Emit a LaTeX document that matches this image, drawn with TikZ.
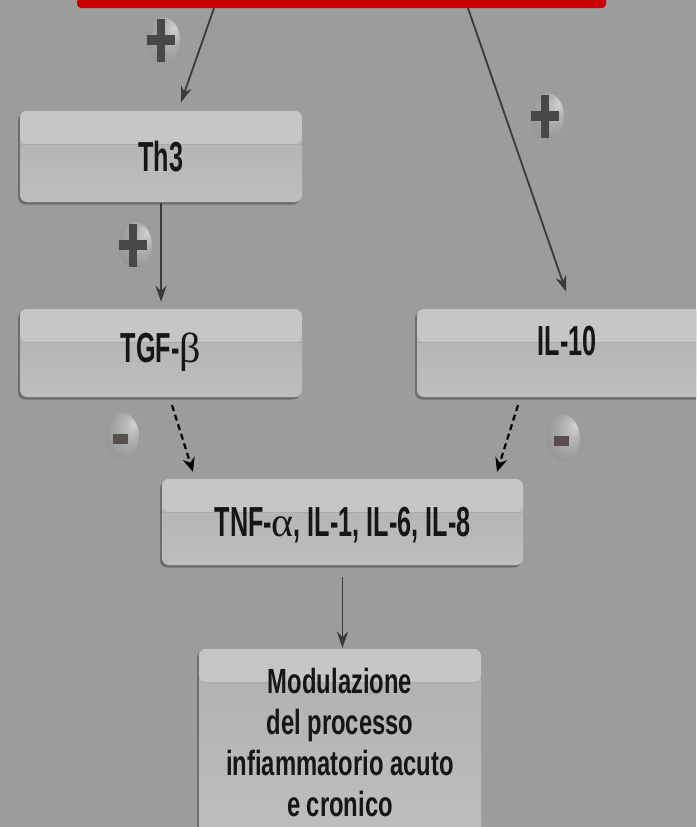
\documentclass[tikz,border=0pt]{standalone}
\usepackage{fontspec}
\usepackage{xcolor}
\usetikzlibrary{arrows.meta,shadows,shapes.geometric}
\newfontfamily\boxfont[FakeStretch=0.6]{Liberation Sans}
\newfontfamily\modfont[FakeStretch=0.68]{Liberation Sans}
\newfontfamily\greekfont{Liberation Serif}
\definecolor{bgcol}{RGB}{156,156,156}
\definecolor{bandcol}{RGB}{198,198,198}
\definecolor{bandline}{RGB}{170,170,170}
\definecolor{lowtop}{RGB}{176,176,176}
\definecolor{lowbot}{RGB}{190,190,190}
\definecolor{edgecol}{RGB}{110,110,110}
\definecolor{barred}{RGB}{200,0,0}
\definecolor{arrcol}{RGB}{58,58,58}
\definecolor{signcol}{RGB}{72,72,72}
\definecolor{minuscol}{RGB}{88,78,78}
\definecolor{txtcol}{RGB}{22,22,22}
\pgfdeclareradialshading{signglow}{\pgfpoint{18bp}{14bp}}{color(0bp)=(white!55!bgcol); color(12bp)=(white!25!bgcol); color(30bp)=(bgcol!97!black); color(50bp)=(bgcol)}

\begin{document}
\begin{tikzpicture}[x=1pt,y=-1pt,
  cbox/.style={rectangle, rounded corners=7pt, minimum width=282pt, inner sep=0pt,
    top color=lowtop, bottom color=lowbot, text=txtcol,
    font=\boxfont\bfseries\fontsize{42}{46}\selectfont,
    general shadow={shadow xshift=-2pt, shadow yshift=-2.5pt, fill=edgecol},
    path picture={
      \fill[bandcol] (path picture bounding box.north west) rectangle ([yshift=-33pt]path picture bounding box.north east);
      \draw[bandline, line width=1pt] ([yshift=-33pt]path picture bounding box.north west) -- ([yshift=-33pt]path picture bounding box.north east);}},
  sign/.style={ellipse, minimum width=34pt, minimum height=46pt, inner sep=0pt, shade, shading=signglow},
  plus/.style={sign, path picture={
      \fill[signcol] ([xshift=-16pt,yshift=-5pt]path picture bounding box.center) rectangle ++(28pt,10pt);
      \fill[signcol] ([xshift=-6pt,yshift=-21.5pt]path picture bounding box.center) rectangle ++(8pt,43pt);}},
  minus/.style={sign, path picture={
      \fill[minuscol] ([xshift=-9pt,yshift=-8pt]path picture bounding box.center) rectangle ++(15pt,10pt);}},
  act/.style={arrcol, line width=1.8pt, -{Stealth[length=16pt,width=11pt]}},
  inh/.style={black, line width=2.2pt, dash pattern=on 6pt off 4pt, -{Stealth[length=14pt,width=12pt]}}]
  \clip (0,0) rectangle (696,827);
  \fill[bgcol] (0,0) rectangle (696,827);

  \node[fill=barred, rounded corners=4pt, minimum width=529pt, minimum height=20pt, inner sep=0pt] (bar) at (341.5,-2) {};

  \node[cbox, minimum height=91pt, text depth=0pt] (th3) at (161,156.5) {Th3};
  \node[cbox, minimum height=88pt, text depth=10pt] (tgf) at (161,353) {TGF-{\greekfont\mdseries β}};
  \node[cbox, minimum width=300pt, minimum height=88pt, text depth=24pt] (il10) at (567,353) {IL-10};
  \node[cbox, minimum width=361pt, minimum height=86pt, text depth=0pt] (tnf) at (342.5,522) {TNF-{\greekfont\mdseries α}, IL-1, IL-6, IL-8};
  \node[cbox, minimum height=187pt, align=center,
        font=\modfont\bfseries\fontsize{35}{41}\selectfont] (mod) at (340,742.5)
        {Modulazione\\del processo\\infiammatorio acuto\\e cronico};

  \node[plus] (plusA) at (163,40) {};
  \node[plus] (plusB) at (547,116) {};
  \node[plus] (plusC) at (135,245) {};
  \node[minus] (minusA) at (122,436) {};
  \node[minus] (minusB) at (563,438) {};

  \draw[act, shorten >=9pt] ([xshift=-127.5pt]bar.south) -- ([xshift=17pt]th3.north);
  \draw[act, shorten >=18pt] ([xshift=126.5pt]bar.south) -- ([xshift=5pt]il10.north);
  \draw[act, shorten <=1pt, shorten >=7pt] (th3.south) -- (tgf.north);
  \draw[inh, shorten <=8.4pt, shorten >=7.3pt] ([xshift=8.5pt]tgf.south) -- ([xshift=-147.3pt]tnf.north);
  \draw[inh, shorten <=8.4pt, shorten >=7.3pt] ([xshift=-46.5pt]il10.south) -- ([xshift=152.3pt]tnf.north);
  \draw[act, shorten <=12pt, shorten >=1pt] (tnf.south) -- (tnf.south |- mod.north);
\end{tikzpicture}
\end{document}
